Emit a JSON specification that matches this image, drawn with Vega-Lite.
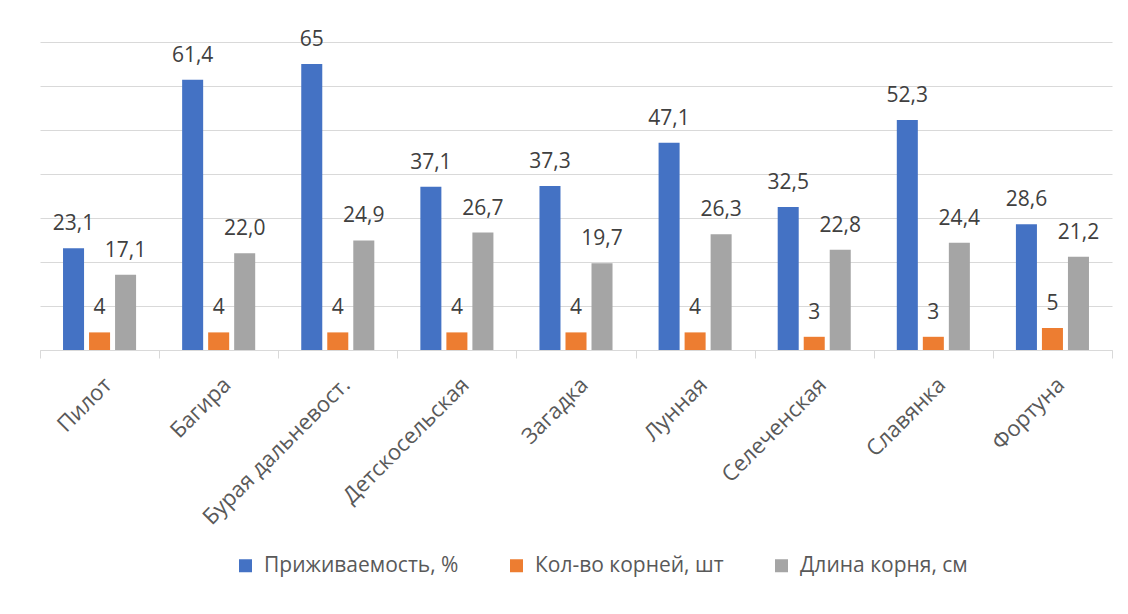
{
  "$schema": "https://vega.github.io/schema/vega-lite/v6.json",
  "width": 1072,
  "height": 308,
  "autosize": {"type": "none"},
  "padding": {"left": 40, "top": 42, "right": 16, "bottom": 264},
  "background": "white",
  "config": {
    "view": {"stroke": null},
    "font": "Open Sans",
    "locale": {
      "number": {"decimal": ",", "thousands": "\u00a0", "grouping": [3], "currency": ["", " ₽"]}
    },
    "legend": {
      "orient": "none",
      "legendX": 195,
      "legendY": 513,
      "direction": "horizontal",
      "title": null,
      "symbolType": "square",
      "symbolSize": 169,
      "symbolStrokeWidth": 0,
      "labelFontSize": 21,
      "labelColor": "#595959",
      "labelOffset": 8,
      "columnPadding": 47,
      "labelLimit": 400
    }
  },
  "data": {
    "values": [
      {"sort": "Пилот", "series": "Приживаемость, %", "value": 23.1},
      {"sort": "Пилот", "series": "Кол-во корней, шт", "value": 4},
      {"sort": "Пилот", "series": "Длина корня, см", "value": 17.1},
      {"sort": "Багира", "series": "Приживаемость, %", "value": 61.4},
      {"sort": "Багира", "series": "Кол-во корней, шт", "value": 4},
      {"sort": "Багира", "series": "Длина корня, см", "value": 22.0},
      {"sort": "Бурая дальневост.", "series": "Приживаемость, %", "value": 65},
      {"sort": "Бурая дальневост.", "series": "Кол-во корней, шт", "value": 4},
      {"sort": "Бурая дальневост.", "series": "Длина корня, см", "value": 24.9},
      {"sort": "Детскосельская", "series": "Приживаемость, %", "value": 37.1},
      {"sort": "Детскосельская", "series": "Кол-во корней, шт", "value": 4},
      {"sort": "Детскосельская", "series": "Длина корня, см", "value": 26.7},
      {"sort": "Загадка", "series": "Приживаемость, %", "value": 37.3},
      {"sort": "Загадка", "series": "Кол-во корней, шт", "value": 4},
      {"sort": "Загадка", "series": "Длина корня, см", "value": 19.7},
      {"sort": "Лунная", "series": "Приживаемость, %", "value": 47.1},
      {"sort": "Лунная", "series": "Кол-во корней, шт", "value": 4},
      {"sort": "Лунная", "series": "Длина корня, см", "value": 26.3},
      {"sort": "Селеченская", "series": "Приживаемость, %", "value": 32.5},
      {"sort": "Селеченская", "series": "Кол-во корней, шт", "value": 3},
      {"sort": "Селеченская", "series": "Длина корня, см", "value": 22.8},
      {"sort": "Славянка", "series": "Приживаемость, %", "value": 52.3},
      {"sort": "Славянка", "series": "Кол-во корней, шт", "value": 3},
      {"sort": "Славянка", "series": "Длина корня, см", "value": 24.4},
      {"sort": "Фортуна", "series": "Приживаемость, %", "value": 28.6},
      {"sort": "Фортуна", "series": "Кол-во корней, шт", "value": 5},
      {"sort": "Фортуна", "series": "Длина корня, см", "value": 21.2}
    ]
  },
  "encoding": {
    "x": {
      "field": "sort",
      "type": "nominal",
      "sort": null,
      "scale": {"paddingInner": 0, "paddingOuter": 0},
      "axis": {
        "title": null,
        "grid": false,
        "labelAngle": -45,
        "labelAlign": "right",
        "labelBaseline": "middle",
        "labelFontSize": 22,
        "labelColor": "#595959",
        "labelPadding": 23,
        "labelOffset": 8,
        "labelLimit": 400,
        "tickBand": "extent",
        "tickSize": 8,
        "tickColor": "#d9d9d9",
        "domainColor": "#d9d9d9"
      }
    },
    "xOffset": {
      "field": "series",
      "type": "nominal",
      "sort": null,
      "scale": {
        "domain": ["Приживаемость, %", "Кол-во корней, шт", "Длина корня, см"],
        "paddingInner": 0.192,
        "paddingOuter": 0.885
      }
    },
    "y": {
      "field": "value",
      "type": "quantitative",
      "scale": {"domain": [0, 70], "nice": false},
      "axis": {
        "title": null,
        "labels": false,
        "ticks": false,
        "domain": false,
        "values": [0, 10, 20, 30, 40, 50, 60, 70],
        "gridColor": "#d9d9d9"
      }
    }
  },
  "layer": [
    {
      "mark": {"type": "bar"},
      "encoding": {
        "color": {
          "field": "series",
          "type": "nominal",
          "scale": {
            "domain": ["Приживаемость, %", "Кол-во корней, шт", "Длина корня, см"],
            "range": ["#4472C4", "#ED7D31", "#A5A5A5"]
          }
        }
      }
    },
    {
      "transform": [{"filter": "datum.series !== 'Длина корня, см'"}],
      "mark": {"type": "text", "baseline": "alphabetic", "dy": -18, "fontSize": 21, "color": "#404040"},
      "encoding": {"text": {"field": "value", "type": "quantitative", "format": ".1~f"}}
    },
    {
      "transform": [{"filter": "datum.series === 'Длина корня, см'"}],
      "mark": {"type": "text", "baseline": "alphabetic", "dy": -18, "fontSize": 21, "color": "#404040"},
      "encoding": {"text": {"field": "value", "type": "quantitative", "format": ".1f"}}
    }
  ]
}
